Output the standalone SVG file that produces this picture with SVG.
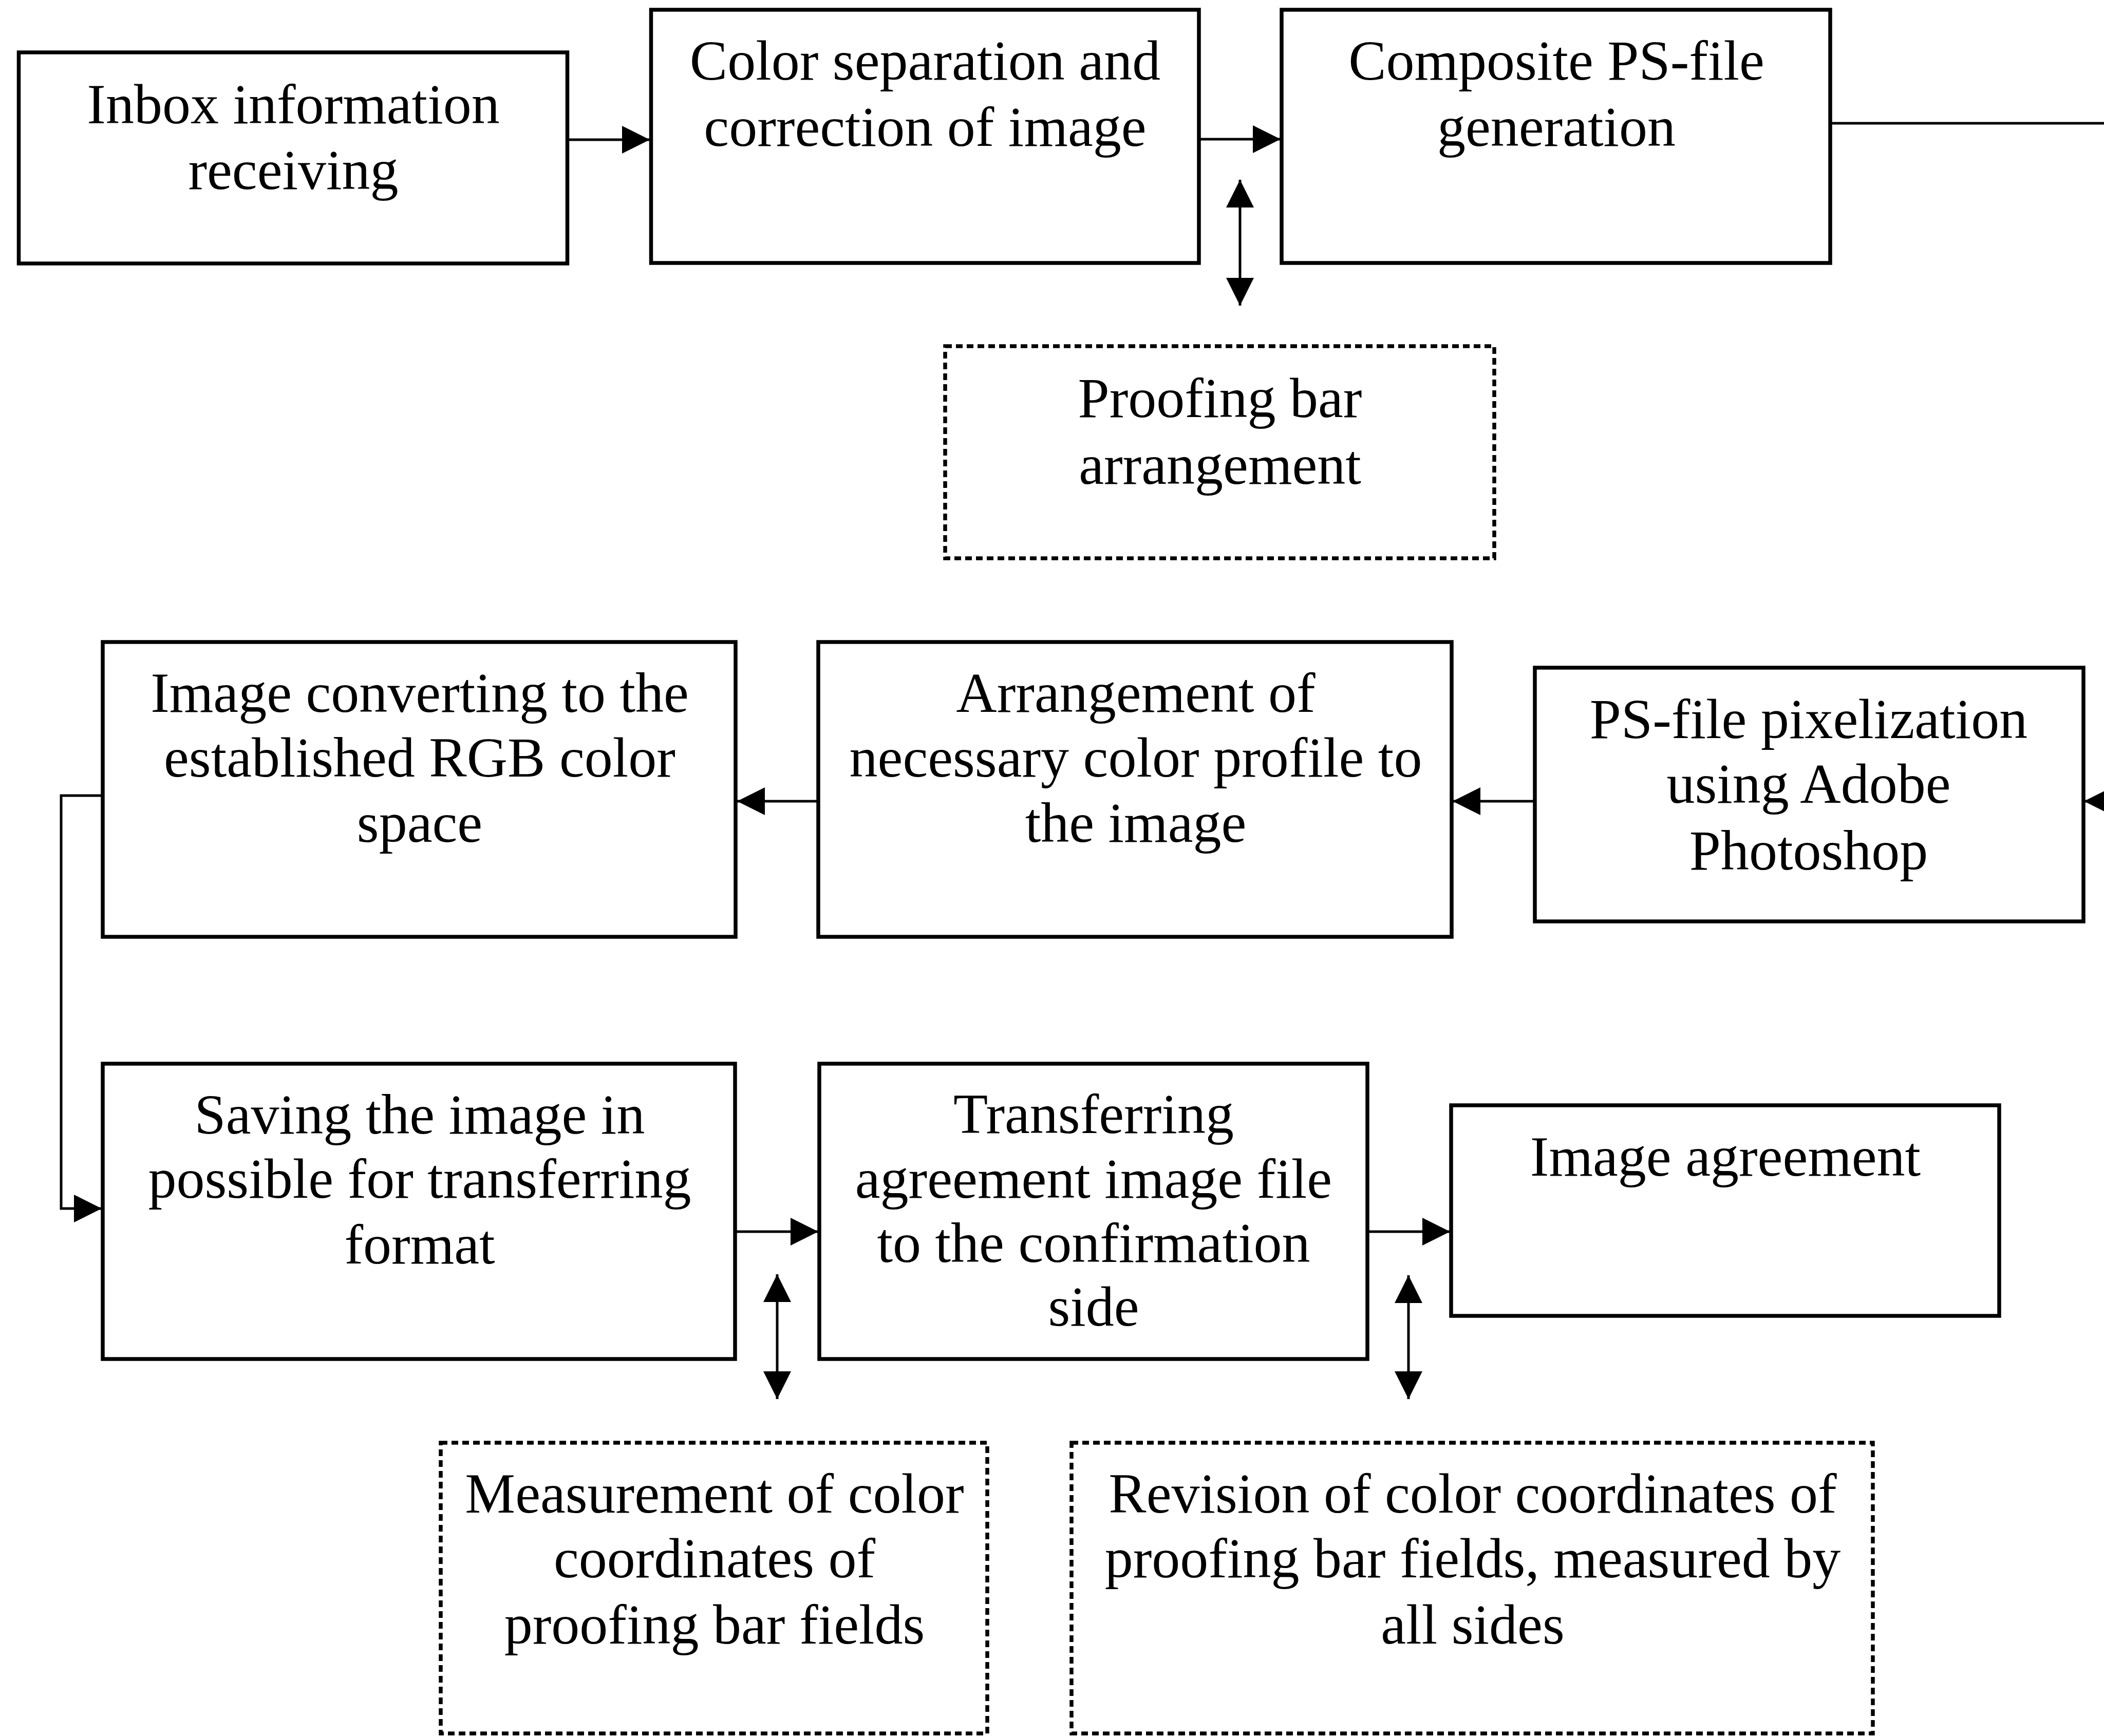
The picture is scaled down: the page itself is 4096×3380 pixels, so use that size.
<svg xmlns="http://www.w3.org/2000/svg" width="4096" height="3380" viewBox="0 0 4096 3380">
<style>
.box{fill:#fff;stroke:#000;stroke-width:7.5}
.dot{fill:#fff;stroke:#000;stroke-width:7.5;stroke-dasharray:13 8}
.lbl{font-family:"Liberation Serif","Times New Roman",serif;font-size:110px;fill:#000;text-anchor:middle}
.con{fill:none;stroke:#000;stroke-width:5}
.arr{marker-end:url(#ah)}
.dbl{marker-start:url(#ah);marker-end:url(#ah)}
</style>
<defs>
<marker id="ah" markerUnits="userSpaceOnUse" markerWidth="56" markerHeight="56" refX="54" refY="27" orient="auto-start-reverse" viewBox="0 0 56 56">
<path d="M0,0 L54,27 L0,54 Z" fill="#000"/>
</marker>
</defs>
<rect width="4096" height="3380" fill="#fff"/>
<g id="connectors">
<path class="con arr" d="M1105,272 H1265"/>
<path class="con arr" d="M2334,271 H2493"/>
<path class="con dbl" d="M2414,350 V595"/>
<path class="con" d="M3563,240 H4096"/>
<path class="con arr" d="M4120,1560 H4057"/>
<path class="con arr" d="M2987,1560 H2828"/>
<path class="con arr" d="M1593,1560 H1435"/>
<path class="con arr" d="M200,1549 H119 V2353 H198"/>
<path class="con arr" d="M1431,2398 H1593"/>
<path class="con arr" d="M2662,2398 H2823"/>
<path class="con dbl" d="M1513,2481 V2724"/>
<path class="con dbl" d="M2742,2483 V2724"/>
</g>
<g id="n-inbox">
<rect class="box" x="36.5" y="102" width="1068" height="411"/>
<text class="lbl" x="571" y="240">Inbox information</text>
<text class="lbl" x="571" y="368">receiving</text>
</g>
<g id="n-colorsep">
<rect class="box" x="1267.5" y="19" width="1066.5" height="493"/>
<text class="lbl" x="1801" y="155">Color separation and</text>
<text class="lbl" x="1801" y="284">correction of image</text>
</g>
<g id="n-composite">
<rect class="box" x="2495" y="19" width="1068" height="493"/>
<text class="lbl" x="3030" y="155">Composite PS-file</text>
<text class="lbl" x="3030" y="284">generation</text>
</g>
<g id="n-proofing">
<rect class="dot" x="1840" y="674" width="1069" height="413"/>
<text class="lbl" x="2375" y="812">Proofing bar</text>
<text class="lbl" x="2375" y="942">arrangement</text>
</g>
<g id="n-convert">
<rect class="box" x="200" y="1250" width="1232" height="574"/>
<text class="lbl" x="817" y="1386">Image converting to the</text>
<text class="lbl" x="817" y="1512">established RGB color</text>
<text class="lbl" x="817" y="1639">space</text>
</g>
<g id="n-arrange">
<rect class="box" x="1593" y="1250" width="1233" height="574"/>
<text class="lbl" x="2211" y="1386">Arrangement of</text>
<text class="lbl" x="2211" y="1512">necessary color profile to</text>
<text class="lbl" x="2211" y="1639">the image</text>
</g>
<g id="n-pixel">
<rect class="box" x="2988" y="1300" width="1068" height="494"/>
<text class="lbl" x="3521" y="1437">PS-file pixelization</text>
<text class="lbl" x="3521" y="1563">using Adobe</text>
<text class="lbl" x="3521" y="1693">Photoshop</text>
</g>
<g id="n-saving">
<rect class="box" x="200" y="2071" width="1231" height="575"/>
<text class="lbl" x="817" y="2207">Saving the image in</text>
<text class="lbl" x="817" y="2332">possible for transferring</text>
<text class="lbl" x="817" y="2460">format</text>
</g>
<g id="n-transfer">
<rect class="box" x="1595" y="2071" width="1067" height="575"/>
<text class="lbl" x="2129" y="2206">Transferring</text>
<text class="lbl" x="2129" y="2332">agreement image file</text>
<text class="lbl" x="2129" y="2457">to the confirmation</text>
<text class="lbl" x="2129" y="2581">side</text>
</g>
<g id="n-agreement">
<rect class="box" x="2825" y="2152" width="1067" height="410"/>
<text class="lbl" x="3359" y="2289">Image agreement</text>
</g>
<g id="n-measure">
<rect class="dot" x="858" y="2809" width="1064" height="566"/>
<text class="lbl" x="1391" y="2945">Measurement of color</text>
<text class="lbl" x="1391" y="3071">coordinates of</text>
<text class="lbl" x="1391" y="3200">proofing bar fields</text>
</g>
<g id="n-revision">
<rect class="dot" x="2086" y="2809" width="1560" height="566"/>
<text class="lbl" x="2867" y="2945">Revision of color coordinates of</text>
<text class="lbl" x="2867" y="3071">proofing bar fields, measured by</text>
<text class="lbl" x="2867" y="3200">all sides</text>
</g>
</svg>
